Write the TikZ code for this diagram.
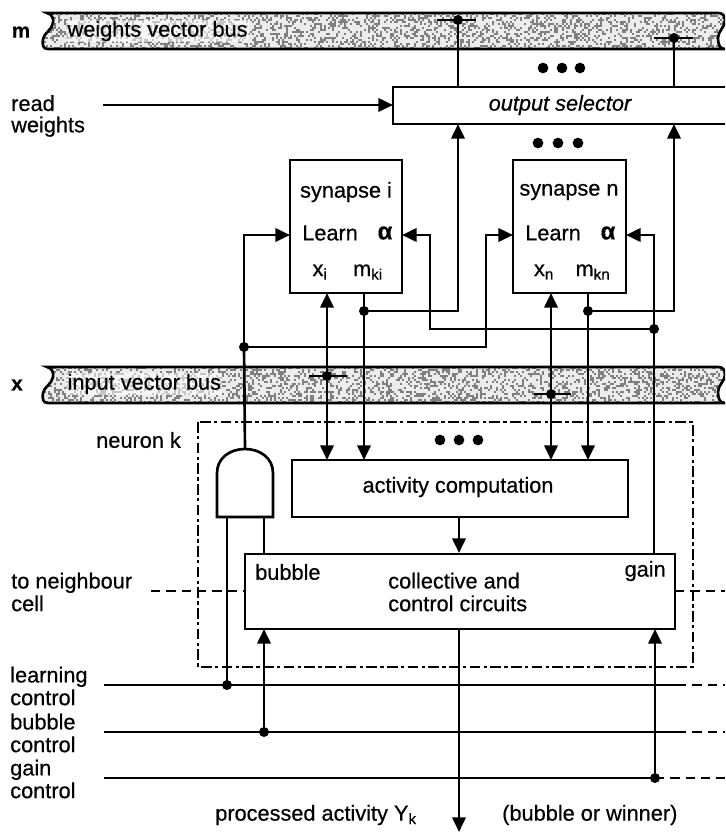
\documentclass[tikz,border=0pt]{standalone}
\usepackage{fontspec}
\setmainfont[RawFeature={embolden=0.5}]{Liberation Sans}
\usetikzlibrary{arrows.meta}
\tikzset{
  tip/.tip={Triangle[length=11pt,width=10pt]},
  wire/.style={line width=2pt},
  arr/.style={wire,-tip},
  dbl/.style={wire,tip-tip},
  dashwire/.style={line width=2pt,dash pattern=on 7pt off 4.5pt},
  boxn/.style={draw,line width=2pt,fill=white,inner sep=0pt,outer sep=0pt},
  lab/.style={inner sep=0pt,font=\fontsize{16.3}{17}\selectfont},
  leftlab/.style={lab,anchor=west,align=left},
  buslab/.style={leftlab,fill=white,fill opacity=0.55,text opacity=1,inner xsep=1pt,inner ysep=1pt},
  boldlab/.style={inner sep=0pt,font=\fontsize{15.5}{17}\bfseries\selectfont},
  alphalab/.style={inner sep=0pt,font=\fontsize{18}{17}\bfseries\selectfont},
  busline/.style={draw,line width=2pt},
  jn/.style={circle,fill=black,inner sep=0pt,minimum size=7.5pt},
  dotn/.style={circle,fill=black,inner sep=0pt,minimum size=8pt}
}
\newcommand{\busedge}[1]{%
  (47,#1) .. controls (52,#1+1) and (54,#1+6) .. (53,#1+10)
  .. controls (52,#1+17) and (44,#1+20) .. (43,#1+26)
  .. controls (42,#1+32) and (43,#1+36) .. (48,#1+36)
  -- (725,#1+36)
  .. controls (720,#1+36) and (718,#1+32) .. (718,#1+25)
  .. controls (718,#1+18) and (725,#1+14) .. (725,#1+8)
  .. controls (725,#1+3) and (723,#1) .. (718,#1) -- cycle}
\newcommand{\speckle}[1]{%
  \begin{scope}
    \clip \busedge{#1};
    \fill[gray!15] (40,#1) rectangle (725,#1+37);
    \foreach \i in {21,...,362} \foreach \j in {0,...,18} {%
      \pgfmathrandominteger{\rr}{0}{99}%
      \ifnum\rr<34 \fill[black!50] (2*\i,#1+2*\j) rectangle +(2,2);\fi
    }
  \end{scope}
  \path[busline] \busedge{#1};}
\begin{document}
\begin{tikzpicture}[x=0.75pt,y=-0.75pt]
\useasboundingbox (0,0) rectangle (725,832);
\clip (0,0) rectangle (725,832);
\pgfmathsetseed{7}
% buses
\speckle{13}
\speckle{367}
% boxes
\node[boxn,minimum width=256.5pt,minimum height=27.75pt] (sel) at (564,105.5) {};
\node[boxn,minimum width=84pt,minimum height=99.75pt] (syni) at (346,226.5) {};
\node[boxn,minimum width=84.75pt,minimum height=99.75pt] (synn) at (569.5,226.5) {};
\node[boxn,minimum width=252pt,minimum height=42.75pt] (act) at (460,488.5) {};
\node[boxn,minimum width=322.5pt,minimum height=56.25pt] (coll) at (460,591.5) {};
% neuron frame
\draw[line width=1.5pt,dash pattern=on 8pt off 2.5pt on 2.5pt off 2.5pt] (198,422) rectangle (693,667);
% AND gate
\draw[line width=2pt,fill=white] (217,517) -- (217,473) .. controls (217,458) and (230,449) .. (245,449)
  .. controls (260,449) and (273,458) .. (273,473) -- (273,517) -- cycle;
\coordinate (gatetop) at (245,449);
% junctions
\coordinate (jm1) at (458,20);
\coordinate (jm2) at (674,38);
\coordinate (jxi) at (327,376);
\coordinate (jxn) at (551,394);
\coordinate (jmi) at (364,311);
\coordinate (jmn) at (588,311);
\coordinate (jlrn) at (244,347);
\coordinate (jalpha) at (654,329);
\coordinate (jlc) at (227,685);
\coordinate (jbc) at (264,732);
\coordinate (jgc) at (655,778);
\coordinate (legb) at (264,517);
% control lines
\coordinate (lcs) at (104,685); \coordinate (lce) at (677,685); \coordinate (lcr) at (725,685);
\coordinate (bcs) at (104,732); \coordinate (bce) at (677,732); \coordinate (bcr) at (725,732);
\coordinate (gcs) at (104,778); \coordinate (gcr) at (725,778);
\draw[wire] (lcs) -- (lce); \draw[dashwire] (lce) -- (lcr);
\draw[wire] (bcs) -- (bce); \draw[dashwire] (bce) -- (bcr);
\draw[wire] (gcs) -- (jgc); \draw[dashwire] (jgc) -- (gcr);
% neighbour
\coordinate (nbl) at (151,591);
\coordinate (nbr) at (725,591);
\draw[dashwire] (nbl) -- (nbl -| coll.west);
\draw[dashwire] (nbr -| coll.east) -- (nbr);
% bus taps to selector
\draw[wire] (jm1) -- (jm1 |- sel.north);
\draw[wire] (jm2) -- (jm2 |- sel.north);
\draw[wire] ([xshift=-15.75pt]jm1) -- ([xshift=13.5pt]jm1);
\draw[wire] ([xshift=-15pt]jm2) -- ([xshift=14.25pt]jm2);
% read weights
\coordinate (rw) at (103,105);
\draw[arr] (rw) -- (rw -| sel.west);
% synapse outputs
\draw[arr] (jmi) -| (jm1 |- sel.south);
\draw[arr] (jmn) -| (jm2 |- sel.south);
\draw[wire] (jmi |- syni.south) -- (jmi);
\draw[wire] (jmn |- synn.south) -- (jmn);
\draw[arr] (jmi) -- (jmi |- act.north);
\draw[arr] (jmn) -- (jmn |- act.north);
% x lines
\draw[dbl] (jxi |- syni.south) -- (jxi |- act.north);
\draw[dbl] (jxn |- synn.south) -- (jxn |- act.north);
\draw[wire] ([xshift=-13.5pt]jxi) -- ([xshift=15pt]jxi);
\draw[wire] ([xshift=-12.75pt]jxn) -- ([xshift=15pt]jxn);
% learn lines
\coordinate (lrni) at (290,235);
\coordinate (lrnn) at (513,235);
\draw[wire] (gatetop) -- (jlrn);
\draw[arr] (jlrn) -- (jlrn |- lrni) -- (lrni);
\draw[arr] (jlrn) -- (486,347) -- (486,235) -- (lrnn);
% alpha lines
\coordinate (alpi) at (402,235);
\coordinate (alpn) at (626,235);
\draw[arr] (jalpha) -- (430,329) -- (430,235) -- (alpi);
\draw[arr] (jalpha) -- (jalpha |- alpn) -- (alpn);
\draw[wire] (jalpha) -- (jalpha |- coll.north);
% gate legs
\draw[wire] (227,517) -- (jlc);
\draw[wire] (legb) -- (legb |- coll.north);
% control arrows
\draw[arr] (jbc) -- (jbc |- coll.south);
\draw[arr] (jgc) -- (jgc |- coll.south);
% activity and output
\draw[arr] (459,517) -- (459,553);
\coordinate (outend) at (459,832);
\draw[arr] (459,629) -- (outend);
% junction dots
\foreach \c in {jm1,jm2,jxi,jxn,jmi,jmn,jlrn,jalpha,jlc,jbc,jgc} \node[jn] at (\c) {};
% ellipses
\foreach \i/\x/\y in {1/543/68,2/562/68,3/580/68,4/538/143,5/558/143,6/578/143,7/440/440,8/459/440,9/478/440}
  \node[dotn] (d\i) at (\x,\y) {};
% labels
\node[boldlab] (tm) at (21,32) {m};
\node[boldlab] (tx) at (17,385) {x};
\node[buslab] (twb) at (66,31) {weights vector bus};
\node[buslab] (tib) at (66,384) {input vector bus};
\node[leftlab,font=\fontsize{16.3}{15}\selectfont] (trw) at (11,116) {read\\[1pt]weights};
\node[lab,font=\fontsize{16.3}{17}\itshape\selectfont] (tsel) at (560,105) {output selector};
\node[lab] (tsi) at (346,192) {synapse i};
\node[lab] (tsn) at (569,192) {synapse n};
\node[leftlab] (tli) at (302,233) {Learn};
\node[leftlab] (tln) at (525,233) {Learn};
\node[alphalab] (tai) at (385,233) {α};
\node[alphalab] (tan) at (608,233) {α};
\node[lab] (txi) at (320,272) {x\textsubscript{i}};
\node[lab] (tmi) at (368,272) {m\textsubscript{ki}};
\node[lab] (txn) at (544,272) {x\textsubscript{n}};
\node[lab] (tmn) at (593,272) {m\textsubscript{kn}};
\node[leftlab] (tnk) at (96,440) {neuron k};
\node[lab] (tact) at (458,487) {activity computation};
\node[leftlab] (tbu) at (255,572) {bubble};
\node[lab,anchor=east] (tga) at (666,571) {gain};
\node[leftlab] (tcc) at (388,592) {collective and\\control circuits};
\node[leftlab] (tnb) at (11,592) {to neighbour\\cell};
\node[leftlab] (tlc) at (10,686) {learning\\control};
\node[leftlab] (tbc) at (10,733) {bubble\\control};
\node[leftlab] (tgc) at (10,779) {gain\\control};
\node[leftlab] (tpa) at (215,815) {processed activity Y\textsubscript{k}};
\node[leftlab] (tbw) at (502,815) {(bubble or winner)};
\end{tikzpicture}
\end{document}
